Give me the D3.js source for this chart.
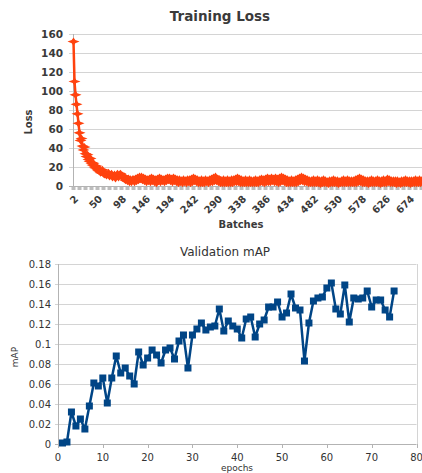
<!DOCTYPE html>
<html><head><meta charset="utf-8">
<script src="https://cdn.jsdelivr.net/npm/d3@7"></script>
<style>html,body{margin:0;padding:0;background:#fff;overflow:hidden}svg{display:block;font-family:"DejaVu Sans",sans-serif}</style>
</head><body>
<svg id="c" width="422" height="473"></svg>
<script>
// ---------- Data ----------
const lossStartBatch = 2, lossBatchStep = 2;
const lossValues = [
152,110,96,86,76,66,56,48,50,42, 38,41,34,31,33,28,26,29,24,22,
24,20,19,21,17,16,18,14,15,17, 13,12,14,11,12,14,10,11,13,9,
10,12,8,11,13,9,12,13,10,11, 8,10,6,8,5,8,4,7,4,7,
7,4,8,5,9,6,10,7,10,6,9,5,8,4,7,5,8,4,9,5,
8,4,7,3,8,5,9,4,8,5,7,4,8,5,9,6,9,5,8,4,
9,5,8,4,7,3,7,4,6,3,7,4,6,3,7,4,7,3,8,4,
9,5,8,4,7,3,6,3,7,3,6,3,7,4,6,3,7,4,8,4,
9,5,10,5,8,4,7,3,6,3,7,3,6,3,7,3,6,3,7,3,
7,4,8,4,9,4,8,3,7,3,6,3,7,3,6,3,7,3,6,3,
6,3,7,3,6,3,7,4,8,4,7,3,8,4,9,4,8,4,9,5,
8,4,9,4,8,3,9,4,10,5,9,4,8,3,7,3,6,3,7,3,
6,3,7,3,8,4,9,5,10,5,9,4,8,4,7,3,6,3,6,3,
7,3,6,3,7,3,6,2,6,3,7,3,6,3,5,2,6,3,6,3,
7,3,6,3,6,2,5,3,6,3,7,3,6,3,7,3,6,3,6,3,
6,3,7,3,8,4,9,4,8,3,7,3,6,3,6,2,6,3,7,3,
6,3,6,3,7,3,6,2,6,3,7,3,6,3,8,4,7,3,6,3,
6,3,6,2,6,3,5,2,6,3,6,3,7,3,6,3,6,2,6,3,
6,3,7,3,6,3,7,3,6,3,7,4,7,3,6,3,7,3,6,3
];
const lossBatches = lossValues.map((_, i) => lossStartBatch + i * lossBatchStep);
const lossYTicks = [0,20,40,60,80,100,120,140,160];
const lossXLabels = [2,50,98,146,194,242,290,338,386,434,482,530,578,626,674];

const mapEpochs = d3.range(1, 76);
const mapValues = [
0.001,0.002,0.032,0.018,0.025,0.015,0.038,0.061,0.058,0.066,
0.041,0.066,0.088,0.071,0.076,0.068,0.060,0.092,0.079,0.086,
0.094,0.089,0.081,0.094,0.096,0.085,0.103,0.109,0.076,0.109,
0.115,0.121,0.114,0.117,0.118,0.135,0.113,0.123,0.118,0.115,
0.106,0.125,0.127,0.107,0.120,0.124,0.137,0.137,0.142,0.127,
0.131,0.150,0.136,0.134,0.083,0.121,0.143,0.146,0.147,0.156,
0.161,0.135,0.130,0.159,0.122,0.146,0.145,0.146,0.153,0.137,
0.144,0.144,0.134,0.127,0.153
];
const mapYTicks = [0,0.02,0.04,0.06,0.08,0.1,0.12,0.14,0.16,0.18];
const mapYTickLabels = ["0","0.02","0.04","0.06","0.08","0.1","0.12","0.14","0.16","0.18"];
const mapXTicks = [0,10,20,30,40,50,60,70,80];

// ---------- Drawing ----------
const svg = d3.select("#c");
const grid = "#d4d4d4", axisCol = "#b3b3b3", txt = "#333";

// ===== Training Loss =====
const x1 = d3.scaleLinear().domain([1, 721]).range([73, 433]);
const y1 = d3.scaleLinear().domain([0, 160]).range([186, 34]);
const g1 = svg.append("g");
g1.append("text").attr("x", 220).attr("y", 21).attr("text-anchor", "middle")
  .attr("font-size", 13.5).attr("font-weight", "bold").attr("fill", "#3a3a3a").text("Training Loss");
g1.selectAll(".gy").data(lossYTicks).join("line")
  .attr("x1", 69).attr("x2", 422).attr("y1", d => Math.round(y1(d)) + 0.5).attr("y2", d => Math.round(y1(d)) + 0.5)
  .attr("stroke", d => d === 0 ? axisCol : grid).attr("stroke-width", 1);
g1.append("line").attr("x1", 73.5).attr("x2", 73.5).attr("y1", y1(160)).attr("y2", y1(0)+1)
  .attr("stroke", axisCol);
g1.selectAll(".ly").data(lossYTicks).join("text")
  .attr("x", 63).attr("y", d => y1(d)).attr("dy", "0.36em").attr("text-anchor", "end")
  .attr("font-size", 10.5).attr("font-weight", "bold").attr("fill", "#3a3a3a").text(d => d);
// dense category ticks
g1.selectAll(".tk").data(d3.range(2, 722, 12)).join("rect")
  .attr("x", d => x1(d) - 2).attr("y", 187).attr("width", 4).attr("height", 3).attr("fill", "#bdbdbd");
g1.selectAll(".lx").data(lossXLabels).join("text")
  .attr("transform", d => `translate(${x1(d) + 3},${197}) rotate(-45)`)
  .attr("text-anchor", "end").attr("dy", "0.35em")
  .attr("font-size", 10).attr("font-weight", "bold").attr("fill", "#3a3a3a").text(d => d);
g1.append("text").attr("x", 241).attr("y", 228).attr("text-anchor", "middle")
  .attr("font-size", 10).attr("font-weight", "bold").attr("fill", "#3a3a3a").text("Batches");
g1.append("text").attr("transform", "translate(32,122) rotate(-90)").attr("text-anchor", "middle")
  .attr("font-size", 10).attr("font-weight", "bold").attr("fill", "#3a3a3a").text("Loss");
const lossPts = lossBatches.map((b, i) => [b, lossValues[i]]);
g1.append("path").datum(lossPts)
  .attr("d", d3.line().x(d => x1(d[0])).y(d => y1(d[1])))
  .attr("fill", "none").attr("stroke", "#ff420e").attr("stroke-width", 2.5).attr("stroke-linejoin", "round");
const star = "M-6,0L-1.8,-1.6L0,-4L1.8,-1.6L6,0L1.8,1.6L0,4L-1.8,1.6Z";
g1.selectAll(".mk").data(lossPts).join("path")
  .attr("d", star).attr("transform", d => `translate(${x1(d[0])},${y1(d[1])})`).attr("fill", "#ff420e");

// ===== Validation mAP =====
const x2 = d3.scaleLinear().domain([0, 80]).range([58, 416.5]);
const y2 = d3.scaleLinear().domain([0, 0.18]).range([444, 264]);
const g2 = svg.append("g");
g2.append("text").attr("x", 225).attr("y", 256).attr("text-anchor", "middle")
  .attr("font-size", 12).attr("fill", txt).text("Validation mAP");
g2.selectAll(".gy").data(mapYTicks).join("line")
  .attr("x1", 55).attr("x2", x2(80)).attr("y1", d => Math.round(y2(d)) + 0.5).attr("y2", d => Math.round(y2(d)) + 0.5)
  .attr("stroke", d => d === 0 ? axisCol : grid);
g2.append("line").attr("x1", 58.5).attr("x2", 58.5).attr("y1", y2(0.18)).attr("y2", y2(0))
  .attr("stroke", axisCol);
g2.append("line").attr("x1", Math.round(x2(80)) + 0.5).attr("x2", Math.round(x2(80)) + 0.5)
  .attr("y1", y2(0.18)).attr("y2", y2(0)).attr("stroke", grid);
g2.selectAll(".xt").data(mapXTicks).join("line")
  .attr("x1", d => Math.round(x2(d)) + 0.5).attr("x2", d => Math.round(x2(d)) + 0.5)
  .attr("y1", y2(0)).attr("y2", y2(0) + 4).attr("stroke", axisCol);
g2.selectAll(".ly").data(mapYTicks).join("text")
  .attr("x", 51).attr("y", d => y2(d)).attr("dy", "0.36em").attr("text-anchor", "end")
  .attr("font-size", 10).attr("fill", txt).text((d, i) => mapYTickLabels[i]);
g2.selectAll(".lx").data(mapXTicks).join("text")
  .attr("x", d => x2(d)).attr("y", 461).attr("text-anchor", "middle")
  .attr("font-size", 10).attr("fill", txt).text(d => d);
g2.append("text").attr("x", 237).attr("y", 471).attr("text-anchor", "middle")
  .attr("font-size", 9).attr("fill", txt).text("epochs");
g2.append("text").attr("transform", "translate(18,357) rotate(-90)").attr("text-anchor", "middle")
  .attr("font-size", 9).attr("fill", txt).text("mAP");
const mapPts = mapEpochs.map((e, i) => [e, mapValues[i]]);
g2.append("path").datum(mapPts)
  .attr("d", d3.line().x(d => x2(d[0])).y(d => y2(d[1])))
  .attr("fill", "none").attr("stroke", "#004586").attr("stroke-width", 2.5).attr("stroke-linejoin", "round");
g2.selectAll(".mk").data(mapPts).join("rect")
  .attr("x", d => x2(d[0]) - 3.5).attr("y", d => y2(d[1]) - 3.5).attr("width", 7).attr("height", 7)
  .attr("fill", "#004586");
</script>
</body></html>
